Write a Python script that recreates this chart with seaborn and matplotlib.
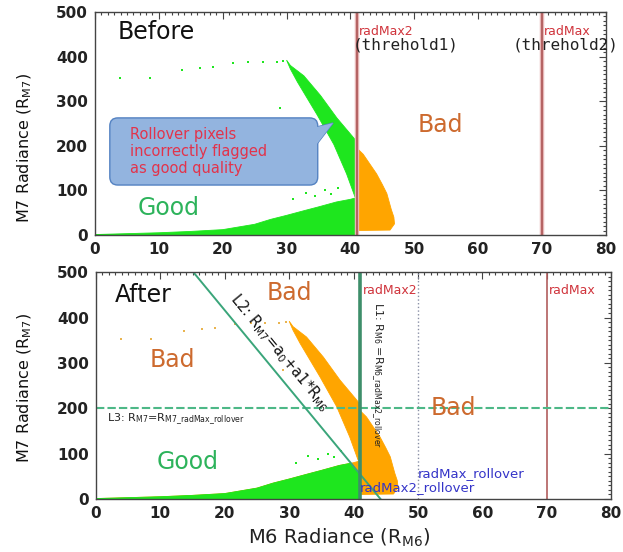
import numpy as np
import matplotlib
matplotlib.use("Agg")
import matplotlib.pyplot as plt
import seaborn as sns
from matplotlib.patches import Polygon, FancyBboxPatch
from matplotlib.ticker import MultipleLocator

# ---------------- data ----------------
RADMAX2 = 41.0           # threshold 1 (radMax2 / L1)
RADMAX = 70.0            # threshold 2 (radMax)
RADMAX_ROLLOVER = 50.0   # radMax_rollover
RM7_ROLLOVER = 200.0     # L3
L2_A0 = 760.0            # L2: R_M7 = a0 + a1*R_M6
L2_A1 = -17.2

X_TICKS = [0, 10, 20, 30, 40, 50, 60, 70, 80]
Y_TICKS = [0, 100, 200, 300, 400, 500]

# diagonal "rollover" band of the point cloud (outline)
BAND_X = [30.0, 30.6, 32.7, 35.3, 37.9, 40.5, 41.0, 41.0, 40.7, 39.4, 37.4, 34.8, 31.7, 30.6]
BAND_Y = [392, 380, 357, 313, 262, 218, 209, 84, 86, 137, 203, 269, 343, 372]

# low-radiance base of the point cloud (outline)
BASE_X = [0, 5, 10, 15, 20, 25, 27.5, 30, 32.6, 35, 37.8, 40, 41, 41, 20, 0]
BASE_Y = [1, 3, 5, 8, 12, 24, 35, 44, 54, 63, 74, 80, 84, 0, 0, 0]

# part of the cloud beyond radMax2 (outline)
ROLL_X = [41.0, 42.0, 43.0, 44.1, 45.0, 45.7, 46.4, 46.8, 46.9, 46.2, 41.0]
ROLL_Y = [195, 181, 160, 137, 113, 93, 57, 40, 25, 11, 10]

# sparse isolated pixels
SPARSE_X = [3.9, 8.6, 13.6, 16.4, 18.5, 21.6, 24.0, 26.3, 28.5, 29.5, 29.0,
            33.0, 36.0, 38.0, 34.5, 31.0, 37.0]
SPARSE_Y = [352, 352, 370, 374, 377, 386, 387, 388, 388, 391, 285,
            95, 100, 105, 88, 80, 92]

# ---------------- style ----------------
sns.set_theme(style="white")
plt.rcParams["font.family"] = ["DejaVu Sans"]

GREEN = "#1EE61E"
ORANGE = "#FFA500"
GOOD_C = "#2DB35B"
BAD_C = "#CD6A2E"
RED_T = "#D0343C"
BLUE_T = "#3434C8"
SPINE = "#444444"

fig = plt.figure(figsize=(6.23, 5.52), dpi=100)
ax1 = fig.add_axes([0.1525, 0.5743, 0.820, 0.404])
ax2 = fig.add_axes([0.154, 0.096, 0.827, 0.411])

narrow = ["Liberation Sans Narrow", "DejaVu Sans"]


def style_axes(ax):
    ax.set_xlim(0, 80)
    ax.set_ylim(0, 500)
    ax.set_xticks(X_TICKS)
    ax.set_yticks(Y_TICKS)
    ax.xaxis.set_minor_locator(MultipleLocator(1))
    ax.yaxis.set_minor_locator(MultipleLocator(10))
    ax.tick_params(which="both", direction="in", top=True, right=True,
                   color=SPINE, width=0.8)
    ax.tick_params(which="major", length=5, labelsize=11, pad=5)
    ax.tick_params(which="minor", length=2.5)
    for lab in ax.get_xticklabels() + ax.get_yticklabels():
        lab.set_fontweight("bold")
        lab.set_color("#222222")
    for sp in ax.spines.values():
        sp.set_color(SPINE)
        sp.set_linewidth(1.0)
    ax.set_ylabel(r"M7 Radiance (R$_{\mathregular{M7}}$)", family=narrow,
                  fontsize=11.5, color="#111111")
    ax.yaxis.label.set_va("center")


style_axes(ax1)
style_axes(ax2)
ax1.yaxis.set_label_coords(-0.137, 0.39)
ax2.yaxis.set_label_coords(-0.138, 0.49)
ax2.set_xlabel(r"M6 Radiance (R$_{\mathregular{M6}}$)", fontsize=14, color="#222222")
ax2.xaxis.label.set_va("center")
ax2.xaxis.set_label_coords(0.472, -0.17)

# ---------------- top panel: Before ----------------
ax1.fill(BASE_X, BASE_Y, color=GREEN, lw=0.6, zorder=1)
ax1.fill(BAND_X, BAND_Y, color=GREEN, lw=0.6, zorder=1)
ax1.fill(ROLL_X, ROLL_Y, color=ORANGE, lw=0.6, zorder=1)
sns.scatterplot(x=SPARSE_X, y=SPARSE_Y, ax=ax1, color=GREEN, s=3, marker="s",
                linewidth=0, legend=False, zorder=1)

for xv in (RADMAX2, RADMAX):
    ax1.axvline(xv, color="#E7B7B7", lw=3.2, zorder=2)
    ax1.axvline(xv, color="#B05C5C", lw=1.3, zorder=2)

ax1.text(3.6, 455, "Before", fontsize=17, color="#111111", va="center")
ax1.text(6.6, 60, "Good", fontsize=17, color=GOOD_C, va="center")
ax1.text(50.5, 247, "Bad", fontsize=17, color=BAD_C, va="center")
ax1.text(41.3, 457, "radMax2", fontsize=9, color=RED_T, va="center")
ax1.text(70.3, 457, "radMax", fontsize=9, color=RED_T, va="center")
ax1.text(40.4, 426, "(threhold1)", family="DejaVu Sans Mono", fontsize=11.5,
         color="#222222", va="center")
ax1.text(65.4, 426, "(threhold2)", family="DejaVu Sans Mono", fontsize=11.5,
         color="#222222", va="center", clip_on=False)

# callout box
BOX_FC = "#93B4DF"
BOX_EC = "#5482C2"
box = FancyBboxPatch((0.029, 0.224), 0.407, 0.301,
                     boxstyle="round,pad=0,rounding_size=0.0157",
                     mutation_aspect=511 / 223, transform=ax1.transAxes,
                     fc=BOX_FC, ec=BOX_EC, lw=1.0, zorder=4)
ptr = [(0.430, 0.482), (0.466, 0.502), (0.430, 0.395)]
ax1.add_patch(Polygon(ptr, closed=True, transform=ax1.transAxes,
                      fc=BOX_FC, ec=BOX_EC, lw=1.0, zorder=3))
ax1.add_patch(box)
ax1.add_patch(Polygon(ptr, closed=True, transform=ax1.transAxes,
                      fc=BOX_FC, ec="none", lw=0, zorder=5))
ax1.text(0.068, 0.375, "Rollover pixels\nincorrectly flagged\nas good quality",
         transform=ax1.transAxes, fontsize=10.5, color="#E2334B",
         ha="left", va="center", linespacing=1.15, zorder=6)

# ---------------- bottom panel: After ----------------
y_clip = np.array([-100.0, 600.0])
x_clip = (y_clip - L2_A0) / L2_A1
left_of_l2 = Polygon([(x_clip[0], y_clip[0]), (x_clip[1], y_clip[1]),
                      (-20, y_clip[1]), (-20, y_clip[0])],
                     closed=True, transform=ax2.transData)

ax2.fill(BASE_X, BASE_Y, color=ORANGE, lw=0.6, zorder=1)
g = ax2.fill(BASE_X, BASE_Y, color=GREEN, lw=0.6, zorder=1.1)
g[0].set_clip_path(left_of_l2)
ax2.fill(BAND_X, BAND_Y, color=ORANGE, lw=0.6, zorder=1.2)
ax2.fill(ROLL_X, ROLL_Y, color=ORANGE, lw=0.6, zorder=1.2)
sns.scatterplot(x=SPARSE_X[:11], y=SPARSE_Y[:11], ax=ax2, color="#E9B450", s=3,
                marker="s", linewidth=0, legend=False, zorder=1)
sns.scatterplot(x=SPARSE_X[11:], y=SPARSE_Y[11:], ax=ax2, color=GREEN, s=3,
                marker="s", linewidth=0, legend=False, zorder=1)

ax2.axvline(RADMAX_ROLLOVER, color="#8A90A6", lw=1.0, ls=":", zorder=2)
ax2.axvline(RADMAX, color="#B25E5E", lw=1.2, zorder=2)
ax2.axhline(RM7_ROLLOVER, color="#4DB887", lw=1.5, ls=(0, (4, 1.5)), zorder=2)
ax2.axvline(RADMAX2, color="#3E8E6A", lw=2.6, zorder=2.1)
l2_y = np.array([-100.0, 600.0])
ax2.plot((l2_y - L2_A0) / L2_A1, l2_y, color="#3AA57A", lw=1.4, zorder=2)

ax2.text(2.95, 449, "After", fontsize=17, color="#111111", va="center")
ax2.text(26.5, 454, "Bad", fontsize=17, color=BAD_C, va="center")
ax2.text(8.4, 306, "Bad", fontsize=17, color=BAD_C, va="center")
ax2.text(9.5, 81, "Good", fontsize=17, color=GOOD_C, va="center")
ax2.text(51.9, 200, "Bad", fontsize=17, color=BAD_C, va="center", zorder=3)
ax2.text(41.5, 460, "radMax2", fontsize=9, color=RED_T, va="center")
ax2.text(70.3, 460, "radMax", fontsize=9, color=RED_T, va="center")
ax2.text(50.0, 57, "radMax_rollover", fontsize=9.5, color=BLUE_T, va="center", zorder=3)
ax2.text(41.0, 26, "radMax2_rollover", fontsize=9.5, color=BLUE_T, va="center", zorder=3)
ax2.text(1.7, 176, r"L3: R$_{\mathregular{M7}}$=R$_{\mathregular{M7\_radMax\_rollover}}$",
         fontsize=8, color="#222222", va="center")
ax2.text(43.6, 434, r"L1: R$_{\mathregular{M6}}$ =R$_{\mathregular{M6\_radMax2\_rollover}}$",
         fontsize=8, family=narrow, color="#222222", rotation=-90,
         ha="center", va="top")

# L2 label along the line
y_lab = 425.0
x_lab = (y_lab - L2_A0) / L2_A1
ang = ax2.transData.transform_angles(np.array([np.degrees(np.arctan(L2_A1))]),
                                     np.array([[x_lab, y_lab]]))[0]
ax2.annotate(r"L2: R$_{\mathregular{M7}}$=a$_{\mathregular{0}}$+a1*R$_{\mathregular{M6}}$",
             xy=(x_lab, y_lab), xytext=(3.5, 3.0), textcoords="offset points",
             rotation=ang, rotation_mode="anchor", ha="left", va="bottom",
             fontsize=10.5, color="#111111")

fig.savefig("out.png", dpi=100)
